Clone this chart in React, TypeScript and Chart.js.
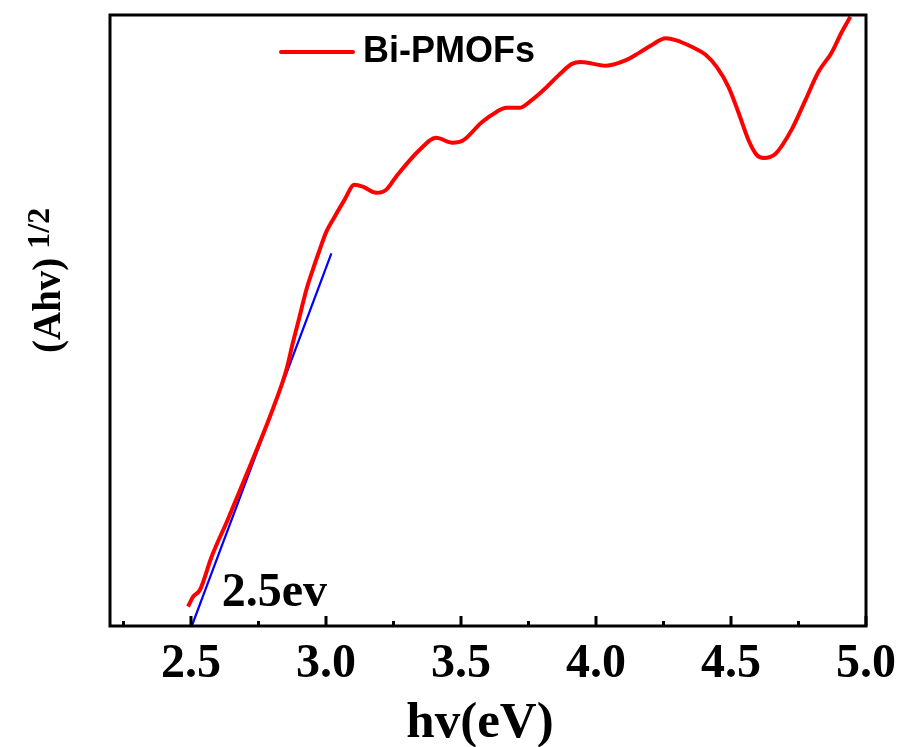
import React, { useEffect, useRef } from "react";
import { Chart, registerables } from "chart.js";

Chart.register(...registerables);

// ---- data ----
const hv = [
  2.489, 2.508, 2.533, 2.576, 2.636, 2.717, 2.802, 2.853, 2.877, 2.902, 2.927, 2.951,
  2.976, 3.001, 3.031, 3.068, 3.105, 3.136, 3.186, 3.223, 3.259, 3.346, 3.408, 3.468,
  3.505, 3.578, 3.63, 3.667, 3.715, 3.763, 3.815, 3.863, 3.911, 3.944, 4.037, 4.111,
  4.159, 4.207, 4.258, 4.295, 4.354, 4.406, 4.447, 4.491, 4.528, 4.565, 4.595, 4.621,
  4.665, 4.724, 4.776, 4.824, 4.872, 4.909, 4.942,
];
const absorbance = [
  3.2, 4.8, 5.9, 11.3, 17.4, 26.0, 35.4, 41.9, 46.3, 50.6, 55.0, 58.3,
  61.5, 64.5, 66.9, 69.7, 72.2, 71.9, 70.9, 71.4, 73.5, 77.9, 79.9, 79.1,
  79.4, 82.5, 84.1, 84.8, 84.8, 86.1, 88.1, 90.2, 92.0, 92.3, 91.7, 92.6,
  93.8, 95.1, 96.2, 95.9, 94.8, 93.5, 91.5, 88.2, 84.0, 79.5, 77.1, 76.6,
  77.3, 81.2, 86.1, 90.7, 93.8, 97.1, 99.7,
];
const fitHv = [2.503, 3.02];
const fitAbs = [0, 61.0];
const xMajorTicks = [2.5, 3.0, 3.5, 4.0, 4.5, 5.0];
const xMinorTicks = [2.25, 2.75, 3.25, 3.75, 4.25, 4.75];
const xMin = 2.2;
const xMax = 5.0;
const yMin = 0;
const yMax = 100;
const seriesName = "Bi-PMOFs";
const xTitle = "hv(eV)";
const yTitleMain = "(Ahv)";
const yTitleSup = "1/2";
const gapLabel = "2.5ev";
const gapLabelHv = 2.614;
const gapLabelAbs = 3.3;

const SERIF = "'Liberation Serif', 'Times New Roman', serif";
const SANS = "'Liberation Sans', Arial, sans-serif";

const decorPlugin = {
  id: "decor",
  afterDraw(chart: any) {
    const { ctx, chartArea: a, scales } = chart;
    const xs = scales.x;
    const ys = scales.y;
    ctx.save();
    // frame
    ctx.strokeStyle = "#000";
    ctx.lineWidth = 3;
    ctx.strokeRect(a.left, a.top, a.right - a.left, a.bottom - a.top);
    // inward ticks on bottom axis
    ctx.beginPath();
    xMajorTicks.forEach((v) => {
      const px = xs.getPixelForValue(v);
      ctx.moveTo(px, a.bottom);
      ctx.lineTo(px, a.bottom - 10);
    });
    xMinorTicks.forEach((v) => {
      const px = xs.getPixelForValue(v);
      ctx.moveTo(px, a.bottom);
      ctx.lineTo(px, a.bottom - 5);
    });
    ctx.stroke();

    // legend
    ctx.strokeStyle = "#ff0000";
    ctx.lineWidth = 4;
    ctx.lineCap = "round";
    ctx.beginPath();
    ctx.moveTo(281, 52);
    ctx.lineTo(353, 52);
    ctx.stroke();
    ctx.fillStyle = "#000";
    ctx.font = `bold 36px ${SANS}`;
    ctx.textAlign = "left";
    ctx.textBaseline = "alphabetic";
    ctx.fillText(seriesName, 363, 62);

    // band gap label
    ctx.font = `bold 48px ${SERIF}`;
    ctx.fillText(gapLabel, xs.getPixelForValue(gapLabelHv), ys.getPixelForValue(gapLabelAbs));

    // x title
    ctx.font = `bold 51px ${SERIF}`;
    ctx.textAlign = "center";
    ctx.fillText(xTitle, 480, 737);

    // y title with superscript
    ctx.textAlign = "left";
    ctx.translate(60, 353);
    ctx.rotate(-Math.PI / 2);
    ctx.font = `bold 39px ${SERIF}`;
    const w = ctx.measureText(yTitleMain).width;
    ctx.fillText(yTitleMain, 0, 0);
    ctx.font = `bold 32px ${SERIF}`;
    ctx.fillText(yTitleSup, w + 9, -11);
    ctx.restore();
  },
};

export default function App() {
  const ref = useRef<HTMLCanvasElement | null>(null);
  useEffect(() => {
    if (!ref.current) return;
    const chart = new Chart(ref.current, {
      type: "line",
      data: {
        datasets: [
          {
            label: seriesName,
            data: hv.map((x, i) => ({ x, y: absorbance[i] })),
            borderColor: "#ff0000",
            borderWidth: 4,
            pointRadius: 0,
            cubicInterpolationMode: "monotone",
            fill: false,
          },
          {
            label: "fit",
            data: fitHv.map((x, i) => ({ x, y: fitAbs[i] })),
            borderColor: "#0000ff",
            borderWidth: 2.2,
            pointRadius: 0,
            fill: false,
          },
        ],
      },
      options: {
        responsive: false,
        animation: false,
        layout: { padding: { left: 110, top: 15, right: 36, bottom: 0 } },
        plugins: {
          legend: { display: false },
          tooltip: { enabled: false },
        },
        scales: {
          x: {
            type: "linear",
            min: xMin,
            max: xMax,
            afterBuildTicks: (scale: any) => {
              scale.ticks = xMajorTicks.map((v) => ({ value: v }));
            },
            afterFit: (scale: any) => {
              scale.height = 121;
              scale.paddingLeft = 0;
              scale.paddingRight = 0;
            },
            grid: { display: false, drawTicks: false },
            border: { display: false },
            ticks: {
              color: "#000",
              padding: 10,
              maxRotation: 0,
              autoSkip: false,
              font: { family: SERIF, size: 48, weight: "bold" },
              callback: (v: any) => Number(v).toFixed(1),
            },
            title: { display: false, text: xTitle },
          },
          y: {
            type: "linear",
            min: yMin,
            max: yMax,
            display: false,
          },
        },
      },
      plugins: [decorPlugin],
    } as any);
    return () => chart.destroy();
  }, []);
  return (
    <div style={{ position: "absolute", left: 0, top: 0, width: 902, height: 747, background: "#fff" }}>
      <canvas ref={ref} width={902} height={747} style={{ display: "block" }} />
    </div>
  );
}
